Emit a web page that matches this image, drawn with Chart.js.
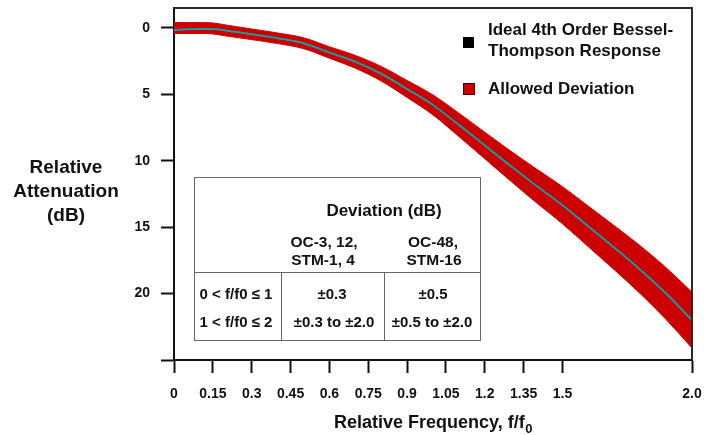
<!DOCTYPE html>
<html><head><meta charset="utf-8">
<script src="https://cdn.jsdelivr.net/npm/chart.js@4/dist/chart.umd.min.js"></script>
<style>html,body{margin:0;padding:0;background:#fff}#wrap{position:relative;width:715px;height:435px}</style>
</head><body><div id="wrap"><canvas id="c" width="715" height="435"></canvas></div>
<script>
// ---- data ----
const frequency      = [0, 0.05, 0.1, 0.15, 0.2, 0.3, 0.4, 0.5, 0.6, 0.7, 0.8, 0.9, 1.0, 1.1, 1.2, 1.3, 1.4, 1.5, 1.6, 1.7, 1.8, 1.9, 2.0];
const idealResponse  = [0.15, 0.1, 0.08, 0.08, 0.2, 0.48, 0.78, 1.15, 1.85, 2.55, 3.45, 4.6, 5.8, 7.3, 8.85, 10.4, 11.9, 13.35, 14.95, 16.55, 18.2, 20.0, 22.0];
const deviationUpper = [-0.4, -0.4, -0.4, -0.38, -0.22, 0.08, 0.38, 0.74, 1.42, 2.07, 2.9, 3.96, 5.05, 6.42, 7.85, 9.27, 10.63, 11.95, 13.42, 14.89, 16.4, 18.05, 19.9];
const deviationLower = [0.42, 0.42, 0.42, 0.45, 0.6, 0.88, 1.18, 1.56, 2.28, 3.03, 4.0, 5.24, 6.55, 8.18, 9.85, 11.53, 13.17, 14.75, 16.48, 18.21, 20.0, 21.95, 24.1];
const xTickValues = [0, 0.15, 0.3, 0.45, 0.6, 0.75, 0.9, 1.05, 1.2, 1.35, 1.5, 2.0];
const xTickLabels = ['0', '0.15', '0.3', '0.45', '0.6', '0.75', '0.9', '1.05', '1.2', '1.35', '1.5', '2.0'];
const yTickValues = [0, 5, 10, 15, 20, 25];
const yTickLabels = ['0', '5', '10', '15', '20', ''];
const seriesNames = ['Ideal 4th Order Bessel-Thompson Response', 'Allowed Deviation'];
const legendLines = [['Ideal 4th Order Bessel-', 'Thompson Response'], ['Allowed Deviation']];
const yTitleLines = ['Relative', 'Attenuation', '(dB)'];
const xTitle = 'Relative Frequency, f/f';
const xTitleSub = '0';
const tableHeader = 'Deviation (dB)';
const tableColumns = [['OC-3, 12,', 'STM-1, 4'], ['OC-48,', 'STM-16']];
const tableRanges = ['0 < f/f0 \u2264 1', '1 < f/f0 \u2264 2'];
const tableValues = [['\u00b10.3', '\u00b10.3 to \u00b12.0'], ['\u00b10.5', '\u00b10.5 to \u00b12.0']];

const RED = '#cc0000', TEAL = '#1a9a9a', INK = '#111';
const pts = arr => frequency.map((f, i) => ({x: f, y: arr[i]}));

function txt(ctx, s, x, y, font, align, color) {
  ctx.font = font; ctx.textAlign = align || 'center'; ctx.textBaseline = 'alphabetic';
  ctx.fillStyle = color || INK; ctx.fillText(s, x, y);
}

const decor = {
  id: 'decor',
  afterDraw(chart) {
    const ctx = chart.ctx, a = chart.chartArea;
    ctx.save();
    // frame top / right
    ctx.strokeStyle = '#2a2a2a'; ctx.lineWidth = 2;
    ctx.beginPath(); ctx.moveTo(a.left, a.top); ctx.lineTo(a.right, a.top); ctx.lineTo(a.right, a.bottom); ctx.stroke();
    // legend
    const F = 'Liberation Sans, Arial, sans-serif';
    ctx.fillStyle = '#000'; ctx.fillRect(463, 37, 11, 11);
    ctx.fillStyle = RED; ctx.fillRect(463, 83, 12, 12);
    ctx.strokeStyle = '#400'; ctx.lineWidth = 1; ctx.strokeRect(463.5, 83.5, 11, 11);
    txt(ctx, legendLines[0][0], 488, 35, 'bold 17px ' + F, 'left');
    txt(ctx, legendLines[0][1], 488, 56, 'bold 17px ' + F, 'left');
    txt(ctx, legendLines[1][0], 488, 94, 'bold 17px ' + F, 'left');
    // y title
    txt(ctx, yTitleLines[0], 66, 173, 'bold 19px ' + F);
    txt(ctx, yTitleLines[1], 66, 197, 'bold 19px ' + F);
    txt(ctx, yTitleLines[2], 66, 221, 'bold 19px ' + F);
    // x title with subscript
    ctx.font = 'bold 18px ' + F;
    const w1 = ctx.measureText(xTitle).width;
    ctx.font = 'bold 13px ' + F;
    const w2 = ctx.measureText(xTitleSub).width;
    const x0 = (a.left + a.right) / 2 - (w1 + w2) / 2;
    txt(ctx, xTitle, x0, 428, 'bold 18px ' + F, 'left');
    txt(ctx, xTitleSub, x0 + w1 + 0.5, 433, 'bold 13px ' + F, 'left');
    // table
    const L = 194, R = 480, T = 177, B = 340, H = 272, V1 = 281, V2 = 384;
    ctx.fillStyle = '#fff'; ctx.fillRect(L, T, R - L, B - T);
    ctx.strokeStyle = '#666'; ctx.lineWidth = 1;
    ctx.strokeRect(L + 0.5, T + 0.5, R - L, B - T);
    ctx.beginPath();
    ctx.moveTo(L, H + 0.5); ctx.lineTo(R, H + 0.5);
    ctx.moveTo(V1 + 0.5, H); ctx.lineTo(V1 + 0.5, B);
    ctx.moveTo(V2 + 0.5, H); ctx.lineTo(V2 + 0.5, B);
    ctx.stroke();
    txt(ctx, tableHeader, 384, 216, 'bold 17px ' + F);
    txt(ctx, tableColumns[0][0], 324, 247, 'bold 15.5px ' + F);
    txt(ctx, tableColumns[0][1], 323, 265, 'bold 15.5px ' + F);
    txt(ctx, tableColumns[1][0], 433, 247, 'bold 15.5px ' + F);
    txt(ctx, tableColumns[1][1], 434, 265, 'bold 15.5px ' + F);
    txt(ctx, tableRanges[0], 236, 299, 'bold 15px ' + F);
    txt(ctx, tableRanges[1], 236, 327, 'bold 15px ' + F);
    txt(ctx, tableValues[0][0], 332, 299, 'bold 15px ' + F);
    txt(ctx, tableValues[0][1], 334, 327, 'bold 15px ' + F);
    txt(ctx, tableValues[1][0], 433, 299, 'bold 15px ' + F);
    txt(ctx, tableValues[1][1], 432, 327, 'bold 15px ' + F);
    ctx.restore();
  }
};

const tickFont = {family: 'Liberation Sans, Arial, sans-serif', size: 14, weight: 'bold'};

new Chart(document.getElementById('c'), {
  type: 'line',
  data: {
    datasets: [
      {label: seriesNames[0], data: pts(idealResponse), borderColor: TEAL, borderWidth: 2, pointRadius: 0, fill: false, cubicInterpolationMode: 'monotone'},
      {label: seriesNames[1], data: pts(deviationUpper), borderColor: RED, borderWidth: 1, backgroundColor: RED, pointRadius: 0, fill: '+1', cubicInterpolationMode: 'monotone'},
      {label: seriesNames[1] + ' (lower)', data: pts(deviationLower), borderColor: RED, borderWidth: 1, pointRadius: 0, fill: false, cubicInterpolationMode: 'monotone'}
    ]
  },
  options: {
    responsive: false, animation: false, devicePixelRatio: 1,
    layout: {padding: {left: 0, top: 8, right: 23, bottom: 0}},
    plugins: {legend: {display: false}, tooltip: {enabled: false}, title: {display: false}},
    scales: {
      x: {
        type: 'linear', min: 0, max: 2,
        afterBuildTicks: s => { s.ticks = xTickValues.map(v => ({value: v})); },
        afterFit: s => { s.height = 75; s.paddingLeft = 0; s.paddingRight = 0; },
        ticks: {callback: (v, i) => xTickLabels[i], autoSkip: false, maxRotation: 0, font: tickFont, color: INK, padding: 13},
        grid: {drawOnChartArea: false, drawTicks: true, tickLength: 13, tickWidth: 2, tickColor: INK},
        border: {display: true, color: INK, width: 2}
      },
      y: {
        type: 'linear', reverse: true, min: -1.5, max: 25,
        afterBuildTicks: s => { s.ticks = yTickValues.map(v => ({value: v})); },
        afterFit: s => { s.width = 174; s.paddingTop = 0; s.paddingBottom = 0; },
        ticks: {callback: (v, i) => yTickLabels[i], autoSkip: false, font: tickFont, color: INK, padding: 11},
        grid: {drawOnChartArea: false, drawTicks: true, tickLength: 13, tickWidth: 2, tickColor: INK},
        border: {display: true, color: INK, width: 2}
      }
    }
  },
  plugins: [decor]
});
</script></body></html>
